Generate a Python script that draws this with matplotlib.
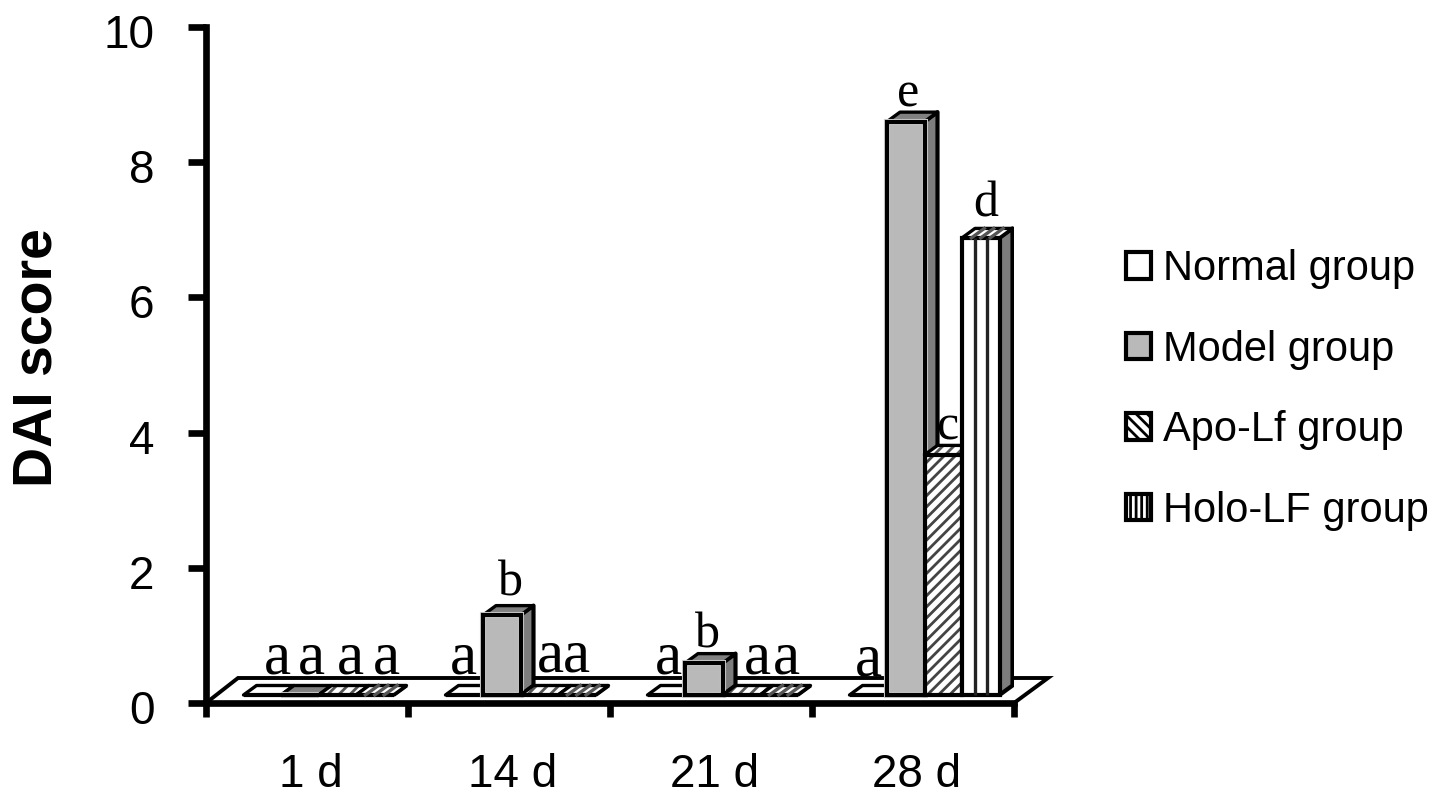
import numpy as np
import matplotlib
matplotlib.use("Agg")
import matplotlib.pyplot as plt
from matplotlib.patches import Patch, Polygon
from matplotlib.transforms import ScaledTranslation

plt.rcParams["font.family"] = ["Liberation Sans", "DejaVu Sans"]
plt.rcParams["hatch.linewidth"] = 2.0

days = ["1 d", "14 d", "21 d", "28 d"]
normal = [0, 0, 0, 0]
model = [0, 1.3, 0.59, 8.6]
apo = [0, 0, 0, 3.67]
holo = [0, 0, 0, 6.88]
groups = ["Normal group", "Model group", "Apo-Lf group", "Holo-LF group"]
letters = [["a", "a", "a", "a"], ["a", "b", "a", "a"], ["a", "b", "a", "a"], ["a", "e", "c", "d"]]

W, H = 1441, 802
L, R, T, B = 206, 1014, 27, 703
fig = plt.figure(figsize=(W / 100, H / 100), dpi=100)
ax = fig.add_axes([L / W, 1 - B / H, (R - L) / W, (B - T) / H])
ax.set_xlim(-0.5, 3.5)
ax.set_ylim(0, 10)

# pixel lengths to data units
px_x = 4 / (R - L)
px_y = 10 / (B - T)
pt = 72 / 100

floor = 8 * px_y
bar_w = 37.5 * px_x
start = 37.5 * px_x
dx, dy = 13 * px_x, 9.5 * px_y
lw = 3.0

# floor of the 3D plot
ax.add_patch(Polygon([(-0.5, 0), (-0.5 + 32 * px_x, 25 * px_y), (3.5 + 34 * px_x, 25 * px_y), (3.5, 0)],
                     closed=True, fc="white", ec="black", lw=2.8, clip_on=False))

styles = [
    dict(front="white", top="white", hatch=None),
    dict(front="#b9b9b9", top="#808080", hatch=None),
    dict(front="white", top="white", hatch="///"),
    dict(front="white", top="white", hatch=None),
]
series = [normal, model, apo, holo]
nudge_x = [[15, 12, 13, 12], [-1, 9, 11, 0], [2, 4, 16, 8], [0, 2, 4, 5]]
nudge_y = [[22, 22, 22, 22], [22, 20, 23, 23], [21, 16, 21, 21], [20, 15, 15, 21]]
letter_size = {"a": 44, "b": 36, "c": 36, "d": 36, "e": 36}

for i in range(len(days)):
    for j, vals in enumerate(series):
        st = styles[j]
        x0 = i - 0.5 + start + j * bar_w
        top = max(vals[i], floor)
        x1 = x0 + bar_w
        # side face
        if vals[i] > 0 or j == 3:
            ax.add_patch(Polygon([(x1, floor), (x1 + dx, floor + dy), (x1 + dx, top + dy), (x1, top)],
                                 closed=True, fc="#7d7d7d", ec="black", lw=lw, joinstyle="round"))
        # top face
        top_pts = [(x0, top), (x0 + dx, top + dy), (x1 + dx, top + dy), (x1, top)]
        ax.add_patch(Polygon(top_pts, closed=True, fc=st["top"], ec="#555555", hatch=st["hatch"], lw=0))
        if j == 3:
            for f in (0.25, 0.5, 0.75):
                ax.plot([x0 + f * bar_w, x0 + f * bar_w + dx], [top, top + dy], color="#555555", lw=2.4)
        ax.add_patch(Polygon(top_pts, closed=True, fill=False, ec="black", lw=lw * 0.8, joinstyle="round"))
        # front face
        ax.bar(x0, top - floor, width=bar_w, bottom=floor, align="edge", color=st["front"],
               edgecolor="#444444", hatch=st["hatch"], linewidth=0)
        if j == 1:
            ax.bar(x0, top - floor, width=bar_w, bottom=floor, align="edge", fill=False,
                   edgecolor="#d2d2d2", linewidth=lw + 1.4)
        if j == 3 and vals[i] > 0:
            for f in (0.34, 0.66):
                ax.plot([x0 + f * bar_w] * 2, [floor, top], color="#222222", lw=2.4, solid_capstyle="butt")
        ax.bar(x0, top - floor, width=bar_w, bottom=floor, align="edge", fill=False,
               edgecolor="black", linewidth=lw)
        # significance letter
        ax.annotate(letters[i][j], xy=(x0 + bar_w / 2, top),
                    xytext=(nudge_x[i][j] * pt, nudge_y[i][j] * pt), textcoords="offset points",
                    ha="center", va="baseline", fontsize=letter_size[letters[i][j]],
                    family="Liberation Serif", annotation_clip=False)

for s in ["top", "right"]:
    ax.spines[s].set_visible(False)
for s in ["left", "bottom"]:
    ax.spines[s].set_linewidth(4.8)

ax.set_yticks(range(0, 11, 2))
ax.tick_params(axis="y", length=13, width=4.8, labelsize=33, pad=25 * 0.72 + 6)
shift = ScaledTranslation(0, -4 / 100, fig.dpi_scale_trans)
for lab in ax.get_yticklabels():
    lab.set_transform(lab.get_transform() + shift)
ax.set_xticks(np.arange(-0.5, 4, 1))
ax.set_xticklabels([])
ax.tick_params(axis="x", which="major", length=10, width=4.8)
ax.set_xticks(np.arange(4) + 0.02, days, minor=True)
ax.tick_params(axis="x", which="minor", length=0, labelsize=33, pad=36)
ax.set_ylabel("DAI score", fontsize=40, fontweight="bold", va="center", ha="center")
ax.yaxis.set_label_coords((37 - L) / (R - L), (B - 358) / (B - T))

handles = [
    Patch(fc="white", ec="black", lw=3),
    Patch(fc="#b9b9b9", ec="black", lw=3),
    Patch(fc="white", ec="black", lw=3, hatch="\\\\\\"),
    Patch(fc="white", ec="black", lw=3, hatch="|||"),
]
ax.legend(handles, groups, loc="upper left", bbox_to_anchor=((1126 - L) / (R - L), (B - 249) / (B - T)),
          frameon=False, fontsize=30, handlelength=0.6, handleheight=0.6, handletextpad=0.29,
          labelspacing=0.973, borderpad=0, borderaxespad=0)

fig.savefig("out.png", dpi=100)
